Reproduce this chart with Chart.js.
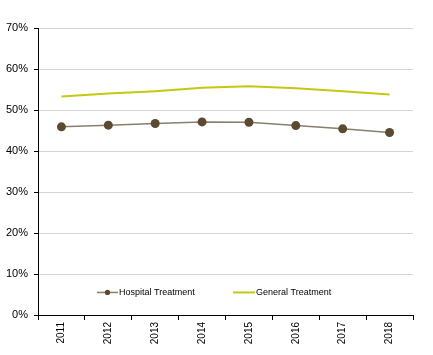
<!DOCTYPE html>
<html>
<head>
<meta charset="utf-8">
<script src="https://cdn.jsdelivr.net/npm/chart.js@4/dist/chart.umd.min.js"></script>
<style>
html,body{margin:0;padding:0;background:#fff;}
#wrap{width:433px;height:355px;position:relative;}
</style>
</head>
<body>
<div id="wrap"><canvas id="c" width="433" height="355"></canvas></div>
<script>
const years = ['2011','2012','2013','2014','2015','2016','2017','2018'];
const hospitalTreatment = [45.9, 46.3, 46.7, 47.1, 47.0, 46.2, 45.4, 44.5];
const generalTreatment = [53.3, 54.0, 54.6, 55.4, 55.8, 55.3, 54.6, 53.8];
const yTicks = [0, 10, 20, 30, 40, 50, 60, 70];

const hospitalPoint = '#5b4a2f';
const hospitalLine = '#8a7e6c';
const generalLine = '#c4c812';

const legendPlugin = {
  id: 'insideLegend',
  afterDraw(chart) {
    const ctx = chart.ctx;
    const a = chart.chartArea;
    const y = chart.scales.y.getPixelForValue(5.5);
    ctx.save();
    ctx.font = '9px "Liberation Sans", Arial, sans-serif';
    ctx.textBaseline = 'middle';
    ctx.fillStyle = '#000';
    let x0 = a.left + 59;
    ctx.strokeStyle = hospitalLine;
    ctx.lineWidth = 1.5;
    ctx.beginPath(); ctx.moveTo(x0, y); ctx.lineTo(x0 + 21, y); ctx.stroke();
    ctx.fillStyle = hospitalPoint;
    ctx.beginPath(); ctx.arc(x0 + 10.5, y, 2.6, 0, Math.PI * 2); ctx.fill();
    ctx.fillStyle = '#000';
    ctx.fillText(chart.data.datasets[0].label, x0 + 22, y);
    let x1 = a.left + 195;
    ctx.strokeStyle = generalLine;
    ctx.lineWidth = 2;
    ctx.beginPath(); ctx.moveTo(x1, y); ctx.lineTo(x1 + 22, y); ctx.stroke();
    ctx.fillText(chart.data.datasets[1].label, x1 + 23, y);
    ctx.restore();
  }
};

new Chart(document.getElementById('c'), {
  type: 'line',
  data: {
    labels: years,
    datasets: [
      {
        label: 'Hospital Treatment',
        data: hospitalTreatment,
        borderColor: hospitalLine,
        borderWidth: 1.5,
        pointBackgroundColor: hospitalPoint,
        pointBorderColor: hospitalPoint,
        pointRadius: 4.5,
        pointBorderWidth: 0,
        tension: 0
      },
      {
        label: 'General Treatment',
        data: generalTreatment,
        borderColor: generalLine,
        borderWidth: 2,
        pointRadius: 0,
        tension: 0
      }
    ]
  },
  options: {
    responsive: false,
    animation: false,
    layout: { padding: { top: 28, right: 20, left: 0, bottom: 0 } },
    plugins: { legend: { display: false }, tooltip: { enabled: false } },
    scales: {
      x: {
        type: 'category',
        offset: true,
        grid: { offset: true, drawOnChartArea: false, drawTicks: true, tickLength: 5, tickColor: '#000', color: '#000' },
        border: { color: '#000', width: 1 },
        ticks: {
          maxRotation: 90, minRotation: 90,
          color: '#000',
          padding: 2,
          font: { family: '"Liberation Sans", Arial, sans-serif', size: 10 }
        },
        afterFit(s) { s.height = 40; }
      },
      y: {
        min: 0, max: 70,
        afterBuildTicks(s) { s.ticks = yTicks.map(v => ({ value: v })); },
        grid: { color: (c) => c.tick && c.tick.value === 0 ? 'rgba(0,0,0,0)' : '#d4d4d4', tickColor: '#000', tickLength: 4, lineWidth: 1 },
        border: { color: '#000', width: 1 },
        ticks: {
          color: '#000',
          padding: 6,
          font: { family: '"Liberation Sans", Arial, sans-serif', size: 11 },
          callback: (v) => v + '%'
        },
        afterFit(s) { s.width = 38; }
      }
    }
  },
  plugins: [legendPlugin]
});
</script>
</body>
</html>
